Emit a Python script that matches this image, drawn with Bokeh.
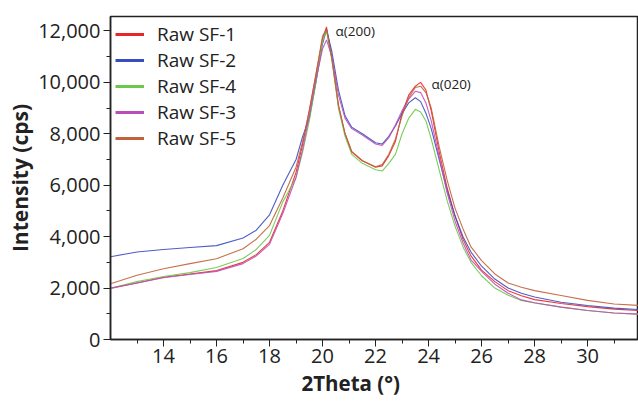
from bokeh.plotting import figure
from bokeh.models import Range1d, FixedTicker, NumeralTickFormatter, Legend, LegendItem, Title, ColumnDataSource
from bokeh.core.properties import value
from bokeh.embed import file_html
from bokeh.resources import INLINE

two_theta = [12, 13, 14, 15, 16, 17, 17.5, 18, 18.5, 19, 19.25, 19.5, 19.75, 20, 20.15, 20.35,
             20.6, 20.85, 21.1, 21.5, 22, 22.25, 22.5, 22.75, 23, 23.25, 23.5, 23.7, 23.9, 24.1,
             24.4, 24.7, 25, 25.3, 25.6, 26, 26.5, 27, 27.5, 28, 29, 30, 31, 32]

sf1 = [1980, 2200, 2420, 2550, 2680, 3000, 3300, 3780, 5000, 6500, 7600, 8900, 10300, 11700, 12150, 11000,
       9100, 8000, 7300, 6950, 6700, 6750, 7150, 7700, 8800, 9500, 9850, 10000, 9700, 8900,
       7300, 5900, 4800, 3900, 3250, 2700, 2250, 1900, 1700, 1550, 1400, 1280, 1180, 1120]
sf2 = [3220, 3400, 3500, 3580, 3650, 3950, 4250, 4850, 6000, 7000, 7900, 8600, 10000, 11500, 12050, 11200,
       9700, 8700, 8250, 8000, 7650, 7600, 7900, 8300, 8800, 9200, 9400, 9250, 8800, 8200,
       7000, 5800, 4800, 4000, 3400, 2850, 2350, 2000, 1800, 1650, 1450, 1320, 1220, 1160]
sf4 = [1990, 2250, 2450, 2600, 2800, 3150, 3500, 4050, 5350, 6300, 7300, 8500, 10000, 11600, 12000, 10900,
       9000, 7900, 7200, 6850, 6600, 6550, 6850, 7200, 8000, 8600, 8950, 8850, 8500, 7800,
       6600, 5400, 4400, 3600, 3000, 2480, 2000, 1720, 1520, 1420, 1260, 1130, 1030, 980]
sf3 = [2000, 2200, 2400, 2530, 2650, 2950, 3250, 3700, 4900, 6300, 7400, 8700, 10100, 11300, 11650, 11000,
       9500, 8600, 8200, 7950, 7600, 7550, 7850, 8350, 8900, 9350, 9650, 9600, 9200, 8500,
       7100, 5700, 4600, 3750, 3100, 2650, 2150, 1800, 1540, 1430, 1260, 1130, 1030, 980]
sf5 = [2170, 2500, 2750, 2950, 3140, 3530, 3900, 4430, 5500, 6700, 7700, 8900, 10300, 11800, 12050, 10900,
       9100, 8000, 7300, 6950, 6720, 6800, 7200, 7800, 8700, 9400, 9800, 9850, 9600, 9000,
       7500, 6200, 5100, 4300, 3600, 3070, 2550, 2200, 2030, 1900, 1710, 1520, 1380, 1320]

series_names = ["Raw SF-1", "Raw SF-2", "Raw SF-4", "Raw SF-3", "Raw SF-5"]
series_values = [sf1, sf2, sf4, sf3, sf5]
series_colors = ["#e8262a", "#3b4cc0", "#6cc84a", "#bb4fb9", "#c0623a"]

x_ticks = [14, 16, 18, 20, 22, 24, 26, 28, 30]
x_minor = [13, 15, 17, 19, 21, 23, 25, 27, 29, 31]
y_ticks = [0, 2000, 4000, 6000, 8000, 10000, 12000]
y_minor = [1000, 3000, 5000, 7000, 9000, 11000]

peak_labels = ["α(200)", "α(020)"]
peak_x = [20.49, 24.11]
peak_y = [12000, 9940]

FONT = "Open Sans"

p = figure(width=638, height=401, output_backend="svg", toolbar_location=None,
           x_range=Range1d(12, 31.92), y_range=Range1d(0, 12560),
           min_border_left=110, min_border_top=16, min_border_right=0, min_border_bottom=62)
p.background_fill_color = "white"
p.border_fill_color = "white"
p.outline_line_color = "#222222"
p.outline_line_width = 1.5
p.grid.visible = False

p.xaxis.ticker = FixedTicker(ticks=x_ticks, minor_ticks=x_minor)
p.yaxis.ticker = FixedTicker(ticks=y_ticks, minor_ticks=y_minor)
p.yaxis.formatter = NumeralTickFormatter(format="0,0")
for ax in (p.xaxis, p.yaxis):
    ax.axis_line_color = "#222222"
    ax.axis_line_width = 1.5
    ax.major_tick_line_color = "#222222"
    ax.minor_tick_line_color = "#222222"
    ax.major_tick_in = 0
    ax.major_tick_out = 7
    ax.minor_tick_in = 0
    ax.minor_tick_out = 4
    ax.major_label_text_font = FONT
    ax.major_label_text_font_size = "20px"
    ax.major_label_text_color = "#222222"
    ax.axis_label_text_font = FONT
    ax.axis_label_text_font_style = "bold"
    ax.axis_label_text_font_size = "21px"
    ax.axis_label_text_color = "#222222"

p.yaxis.axis_label = "Intensity (cps)"
p.yaxis.major_label_standoff = 3
p.yaxis.axis_label_standoff = 1
p.xaxis.major_label_standoff = 2

xt = Title(text="2Theta (°)", align="left", offset=191, standoff=2, text_font=FONT, text_font_style="bold",
           text_font_size="20.5px", text_color="#222222")
p.add_layout(xt, "below")

items = []
for name, vals, col in zip(series_names, series_values, series_colors):
    p.line(two_theta, vals, line_color=col, line_width=1.1, line_alpha=0.9)
    dummy = p.line(x=[float("nan")], y=[float("nan")], line_color=col, line_width=3)
    items.append(LegendItem(label=name, renderers=[dummy]))

legend = Legend(items=items, location="top_left", margin=0, padding=5, spacing=0,
                glyph_width=29, glyph_height=20, label_height=20, label_standoff=13,
                label_text_font=FONT, label_text_font_size="19px", label_text_color="#222222",
                background_fill_alpha=0, border_line_alpha=0)
p.add_layout(legend, "center")

src = ColumnDataSource(dict(x=peak_x, y=peak_y, t=peak_labels))
p.text(x="x", y="y", text="t", source=src, text_font=value(FONT), text_font_size="13.5px",
       text_color="#222222", text_baseline="middle", text_align="left")

open("out.html", "w").write(file_html(p, INLINE))
